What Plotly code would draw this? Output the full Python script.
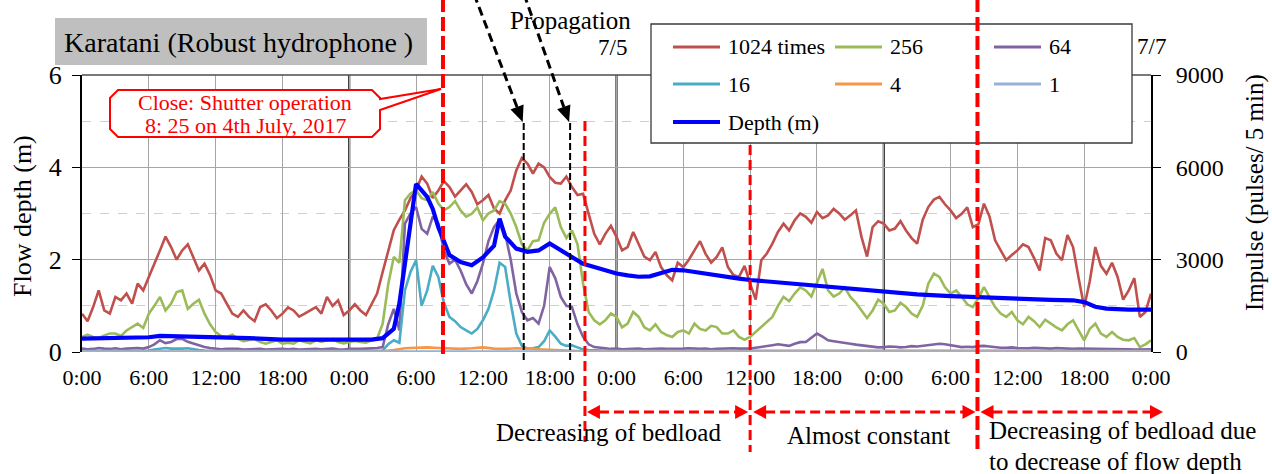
import math
from datetime import datetime, timedelta
import plotly.graph_objects as go

# ---------------- data ----------------
start = datetime(2017, 7, 3)
hours = list(range(97))                  # on-the-hour readings
half_hours = [h + 0.5 for h in range(96)]  # readings at half past

# impulse counts (pulses / 5 min) for each amplification level
imp_1024_hour = [1245, 1460, 1350, 1790, 1900, 2220, 2440, 3300, 3410, 3300,
                 3090, 2870, 2000, 1570, 1140, 1140, 1460, 1350, 1245, 1350,
                 1245, 1460, 1790, 1680, 1350, 1350, 1570, 2600, 3960, 4600,
                 5250, 5470, 5250, 5360, 5250, 5200, 4930, 4660, 4930, 5900,
                 6120, 6120, 5690, 5470, 5360, 5140, 3840, 3840, 3740, 3410,
                 3520, 2980, 2760, 2330, 2760, 3300, 3190, 3090, 2760, 2440,
                 2220, 2980, 3520, 4170, 4280, 4390, 4550, 4440, 4500, 4440,
                 3740, 4060, 4170, 4010, 3950, 3520, 4710, 5040, 4600, 4490,
                 4060, 4820, 3630, 2980, 3300, 3410, 2650, 3630, 2980, 3410,
                 1460, 3410, 2540, 2440, 2000, 1140, 1900]
imp_1024_half = [1000, 2000, 1250, 1680, 1570, 2000, 2900, 3750, 3000, 3500,
                 2650, 2500, 1900, 1250, 1350, 1000, 1550, 1100, 1450, 1150,
                 1350, 1250, 1500, 1200, 1550, 1200, 1900, 3300, 4300, 5000,
                 5700, 5000, 5550, 5050, 5450, 4800, 5100, 4500, 5250, 6300,
                 5800, 6000, 5500, 5700, 5100, 4500, 3500, 4100, 3300, 3900,
                 3100, 3250, 2500, 2900, 3000, 3600, 2900, 3400, 2500, 2800,
                 1700, 3200, 3900, 3950, 4500, 4200, 4350, 4650, 4300, 4600,
                 3100, 4250, 3950, 4250, 3700, 4300, 4950, 4800, 4350, 4700,
                 4150, 4400, 3300, 3150, 3500, 3050, 3700, 3200, 3800, 2400,
                 2300, 2800, 2900, 1700, 2400, 1300]

imp_256_hour = [490, 490, 540, 600, 700, 920, 1245, 1790, 1570, 2000,
                1570, 1245, 650, 490, 430, 380, 325, 325, 270, 270,
                325, 380, 380, 325, 325, 325, 380, 920, 3090, 4930,
                5250, 4930, 4820, 4710, 4600, 4490, 4280, 4600, 4820, 4060,
                3300, 3630, 4490, 4060, 3950, 2220, 1030, 1030, 1140, 920,
                1140, 700, 650, 490, 700, 920, 700, 810, 600, 490,
                490, 810, 1140, 1790, 1900, 2000, 2220, 2000, 1900, 1790,
                1350, 1350, 1570, 1350, 1460, 1140, 2220, 2440, 1900, 1790,
                1460, 2110, 1460, 1140, 1030, 1140, 810, 920, 700, 1030,
                380, 920, 490, 490, 380, 160, 380]
imp_256_half = [560, 450, 600, 520, 800, 780, 1500, 1350, 1950, 1400,
                1700, 900, 520, 560, 350, 420, 270, 380, 300, 380,
                280, 330, 420, 280, 360, 300, 430, 2200, 2900, 5150,
                5000, 5200, 4600, 4900, 4400, 4700, 4500, 4900, 4500, 3500,
                3600, 4200, 4700, 3700, 3500, 1300, 900, 1250, 800, 1300,
                800, 900, 550, 650, 600, 750, 850, 600, 700, 400,
                650, 1000, 1500, 1650, 2100, 1800, 2700, 1800, 2100, 1600,
                1100, 1700, 1300, 1600, 1250, 1500, 2550, 2100, 2000, 1550,
                1750, 1800, 1250, 1300, 900, 1000, 1050, 800, 900, 700,
                750, 600, 650, 400, 450, 250]

imp_64_hour = [110, 100, 110, 120, 110, 130, 160, 380, 325, 430,
               270, 160, 110, 100, 100, 90, 100, 90, 100, 100,
               90, 100, 100, 90, 100, 100, 110, 160, 1400, 4170,
               4710, 3840, 4170, 2870, 2650, 1900, 2870, 4060, 3840, 1900,
               1030, 920, 2760, 1790, 1460, 490, 160, 120, 110, 100,
               110, 100, 110, 100, 110, 100, 110, 100, 100, 110,
               110, 160, 220, 220, 270, 325, 600, 380, 330, 270,
               220, 160, 160, 170, 160, 180, 220, 270, 220, 160,
               160, 200, 150, 140, 130, 120, 130, 110, 120, 100,
               110, 100, 110, 100, 90, 80, 90]
imp_64_half = [90, 130, 100, 90, 130, 110, 250, 290, 420, 330,
               200, 130, 90, 110, 80, 110, 80, 110, 90, 80,
               110, 90, 110, 80, 90, 110, 130, 900, 700, 4500,
               4000, 4400, 3300, 3000, 2200, 2300, 3600, 4300, 3000, 1300,
               1100, 1500, 2400, 1500, 900, 250, 130, 100, 90, 120,
               90, 110, 100, 90, 120, 100, 90, 110, 120, 100,
               140, 180, 250, 200, 320, 450, 500, 350, 300, 240,
               190, 150, 180, 150, 190, 200, 260, 250, 180, 170,
               190, 180, 140, 150, 120, 140, 110, 130, 100, 110,
               100, 110, 90, 100, 80, 80]

imp_16_hour = [30, 30, 30, 30, 30, 40, 50, 110, 110, 110,
               80, 50, 50, 40, 40, 40, 40, 40, 40, 40,
               40, 40, 40, 40, 40, 40, 40, 50, 380, 2000,
               2980, 2000, 2440, 1140, 810, 600, 1030, 2000, 2760, 600,
               110, 160, 700, 270, 220, 80, 50, 50, 40, 40,
               40, 40, 40, 40, 40, 40, 40, 40, 40, 40,
               40, 40, 40, 40, 50, 50, 60, 50, 50, 40,
               40, 40, 40, 40, 40, 40, 40, 40, 40, 40,
               40, 40, 40, 40, 40, 40, 40, 40, 40, 40,
               40, 40, 40, 40, 40, 40, 40]
imp_16_half = [30, 30, 30, 30, 30, 40, 80, 130, 100, 120,
               60, 40, 40, 40, 40, 40, 40, 40, 40, 40,
               40, 40, 40, 40, 40, 40, 40, 250, 300, 2600,
               1500, 2800, 1600, 1000, 700, 750, 1400, 2900, 1600, 200,
               120, 350, 500, 200, 150, 60, 40, 40, 40, 40,
               40, 40, 40, 40, 40, 40, 40, 40, 40, 40,
               40, 40, 40, 50, 50, 60, 50, 50, 40, 40,
               40, 40, 40, 40, 40, 40, 40, 40, 40, 40,
               40, 40, 40, 40, 40, 40, 40, 40, 40, 40,
               40, 40, 40, 40, 40, 40]

imp_4_hour = [10, 10, 10, 10, 10, 10, 10, 10, 10, 10,
              10, 10, 10, 10, 10, 10, 10, 10, 10, 10,
              10, 10, 10, 10, 10, 10, 10, 20, 60, 120,
              140, 150, 130, 110, 100, 120, 150, 110, 100, 120,
              100, 80, 60, 40, 30, 20, 20, 20, 20, 20,
              20, 20, 20, 20, 20, 20, 20, 20, 20, 20,
              20, 20, 20, 20, 20, 20, 20, 20, 20, 20,
              20, 20, 20, 20, 20, 20, 20, 20, 20, 20,
              20, 20, 20, 20, 20, 20, 20, 20, 20, 20,
              20, 20, 20, 20, 20, 20, 20]
imp_1_hour = [15, 15, 15, 15, 15, 15, 15, 20, 20, 20,
              15, 15, 15, 15, 15, 15, 15, 15, 15, 15,
              15, 15, 15, 15, 15, 15, 15, 15, 20, 25,
              25, 25, 25, 25, 20, 20, 25, 25, 25, 20,
              20, 20, 20, 20, 20, 15, 15, 15, 15, 15,
              15, 15, 15, 15, 15, 15, 15, 15, 15, 15,
              15, 15, 15, 15, 15, 15, 15, 15, 15, 15,
              15, 15, 15, 15, 15, 15, 15, 15, 15, 15,
              15, 15, 15, 15, 15, 15, 15, 15, 15, 15,
              15, 15, 15, 15, 15, 15, 15]

# flow depth (m)
depth_hours = [0, 3, 6, 7, 9, 12, 15, 18, 21, 24, 26, 27, 27.5, 28, 28.5, 29,
               29.5, 30, 30.5, 31, 31.5, 32, 33, 34, 35, 36, 37, 37.5, 38, 39,
               40, 41, 42, 43, 44, 45, 46, 47, 48, 49, 50, 51, 52, 53, 54, 55,
               56, 57, 58, 59, 60, 62, 64, 66, 68, 70, 72, 75, 78, 81, 84, 87,
               89, 90, 91, 92, 94, 96]
depth_m = [0.29, 0.30, 0.32, 0.35, 0.34, 0.32, 0.30, 0.27, 0.27, 0.27, 0.27,
           0.30, 0.40, 0.50, 1.05, 1.95, 2.85, 3.64, 3.50, 3.36, 3.10, 2.70,
           2.10, 1.95, 1.88, 2.05, 2.30, 2.89, 2.50, 2.24, 2.17, 2.20, 2.35,
           2.20, 2.06, 1.91, 1.84, 1.77, 1.70, 1.66, 1.63, 1.64, 1.70, 1.78,
           1.77, 1.73, 1.70, 1.66, 1.62, 1.59, 1.56, 1.52, 1.48, 1.44, 1.39,
           1.35, 1.30, 1.25, 1.21, 1.18, 1.14, 1.13, 1.12, 1.08, 0.98, 0.94,
           0.92, 0.92]


def merged(on_hour, half_past):
    """Put the on-the-hour and half-past readings back in time order."""
    t, v = [], []
    for i, h in enumerate(hours):
        t.append(h)
        v.append(on_hour[i])
        if half_past is not None and i < len(half_hours):
            t.append(half_hours[i])
            v.append(half_past[i])
    return t, v


series = [
    ("1024 times", imp_1024_hour, imp_1024_half, "#C0504D"),
    ("256", imp_256_hour, imp_256_half, "#9BBB59"),
    ("64", imp_64_hour, imp_64_half, "#8064A2"),
    ("16", imp_16_hour, imp_16_half, "#4BACC6"),
    ("4", imp_4_hour, None, "#F79646"),
    ("1", imp_1_hour, None, "#95B3D7"),
]
depth_name, depth_color = "Depth (m)", "#0000FF"

# event times (hours from 3 July 0:00)
t_close = 24 + 8 + 25 / 60        # 8:25, 4 July
t_front1 = 24 + 15 + 40 / 60      # propagation front 1
t_front2 = 24 + 19 + 50 / 60      # propagation front 2
t_dec = 24 + 21 + 10 / 60         # start of decreasing bedload
t_const = 48 + 12                 # start of almost constant phase
t_drop = 72 + 8 + 25 / 60         # start of decrease due to flow depth

# ---------------- geometry helpers ----------------
W, H = 1272, 474
L, R, T, B = 82, 1151, 75, 352
PW, PH = R - L, B - T
FONT = "Liberation Serif, Times New Roman, serif"


def fx(x):
    return (x - L) / PW


def fy(y):
    return (B - y) / PH


def hpx(h):
    return L + h * PW / 96


def when(h):
    return start + timedelta(hours=h)


shapes = []
annots = []


def seg(x0, y0, x1, y1, color, width, dash="solid", layer="above"):
    shapes.append(dict(type="line", xref="paper", yref="paper",
                       x0=fx(x0), y0=fy(y0), x1=fx(x1), y1=fy(y1),
                       line=dict(color=color, width=width, dash=dash), layer=layer))


def poly(points, fill, line_color=None, width=0, layer="above"):
    d = "M " + " L ".join(f"{fx(x):.5f},{fy(y):.5f}" for x, y in points) + " Z"
    shapes.append(dict(type="path", xref="paper", yref="paper", path=d,
                       fillcolor=fill, layer=layer,
                       line=dict(color=line_color or fill, width=width)))


def arrow_head(tip, frm, length, half, color):
    dx, dy = tip[0] - frm[0], tip[1] - frm[1]
    n = math.hypot(dx, dy)
    ux, uy = dx / n, dy / n
    bx, by = tip[0] - ux * length, tip[1] - uy * length
    poly([tip, (bx - uy * half, by + ux * half), (bx + uy * half, by - ux * half)], color)
    return bx, by


def text(x, y, s, size, color="black", xanchor="center", angle=0, bg=None):
    annots.append(dict(x=fx(x), y=fy(y), xref="paper", yref="paper", text=s,
                       showarrow=False, xanchor=xanchor, yanchor="middle",
                       textangle=angle, bgcolor=bg,
                       font=dict(family=FONT, size=size, color=color)))


# ---------------- traces ----------------
fig = go.Figure()
for name, on_hour, half_past, col in series:
    t, v = merged(on_hour, half_past)
    fig.add_trace(go.Scatter(x=[when(h) for h in t], y=v, name=name, mode="lines",
                             line=dict(color=col, width=2.6), yaxis="y",
                             showlegend=False))
fig.add_trace(go.Scatter(x=[when(h) for h in depth_hours], y=depth_m,
                         name=depth_name, mode="lines",
                         line=dict(color=depth_color, width=4.2), yaxis="y2",
                         showlegend=False))

# ---------------- frame decorations ----------------
# day boundaries
seg(hpx(24), T, hpx(24), B, "black", 2, layer="below")
seg(hpx(48), T, hpx(48), B, "black", 2, layer="below")
seg(hpx(72), T, hpx(72), B, "black", 2, layer="below")
seg(L, T, R, T, "#4d4d4d", 1.6)

# title box
shapes.append(dict(type="rect", xref="paper", yref="paper",
                   x0=fx(55), x1=fx(427), y0=fy(18), y1=fy(65),
                   fillcolor="#BFBFBF", line=dict(width=0), layer="above"))
text(62, 42, "Karatani (Robust hydrophone )", 28, xanchor="left")

# legend box
shapes.append(dict(type="rect", xref="paper", yref="paper",
                   x0=fx(651), x1=fx(1132), y0=fy(24), y1=fy(143),
                   fillcolor="white", line=dict(color="#3a3a3a", width=1.3),
                   layer="above"))
legend_items = [(n, c, 2.8) for n, _, _, c in series] + [(depth_name, depth_color, 4.2)]
cols = [673, 835, 994]
rows = [47, 84, 122]
for i, (n, c, w) in enumerate(legend_items):
    x0 = cols[i % 3]
    y0 = rows[i // 3]
    seg(x0, y0, x0 + 47, y0, c, w)
    text(x0 + 53, y0, n, 22, xanchor="left")

# event lines
seg(hpx(t_close), -2, hpx(t_close), 358, "#FF0000", 4, dash="14px,5px")
seg(hpx(t_dec), 121, hpx(t_dec), 442, "#FF0000", 3, dash="10px,5px")
seg(hpx(t_const), 145, hpx(t_const), 452, "#FF0000", 3, dash="10px,5px")
seg(hpx(t_drop), -2, hpx(t_drop), 452, "#FF0000", 4, dash="14px,5px")
seg(hpx(t_front1), 123, hpx(t_front1), 360, "black", 2, dash="7px,3px")
seg(hpx(t_front2), 123, hpx(t_front2), 360, "black", 2, dash="7px,3px")

# propagation arrows
for top, tip in [((474, -6), (hpx(t_front1) - 1, 122)),
                 ((524, -6), (hpx(t_front2) - 1, 122))]:
    bx, by = arrow_head(tip, top, 16, 7, "black")
    seg(top[0], top[1], bx, by, "black", 3, dash="9px,5px")
text(570, 20, "Propagation", 25)
text(612, 48, "7/5", 23)
text(1151, 47, "7/7", 23)

# phase arrows
ya = 412
for xa, xb in [(hpx(t_dec) + 2, hpx(t_const) - 2),
               (hpx(t_const) + 3, hpx(t_drop) - 2),
               (hpx(t_drop) + 3, 1163)]:
    arrow_head((xa, ya), (xb, ya), 13, 7, "#FF0000")
    arrow_head((xb, ya), (xa, ya), 13, 7, "#FF0000")
    seg(xa + 12, ya, xb - 12, ya, "#FF0000", 3, dash="10px,5px")
text(608, 432, "Decreasing of bedload", 25)
text(868, 435, "Almost constant", 25)
text(987, 430, "Decreasing of bedload due", 25, xanchor="left")
text(987, 461, "to decrease of flow depth", 25, xanchor="left")

# callout for shutter operation
bx0, bx1, by0, by1, r = 110, 380, 90, 137, 8
tipx = hpx(t_close) - 2
callout = [(bx0 + r, by0), (bx1 - r, by0), (bx1, by0 + r), (bx1, by0 + r + 1),
           (tipx, 89), (bx1, by0 + r + 12), (bx1, by1 - r), (bx1 - r, by1),
           (bx0 + r, by1), (bx0, by1 - r), (bx0, by0 + r)]
poly(callout, "white", "#FF0000", 2)
text(245, 102, "Close: Shutter operation", 22, color="#FF0000")
text(245, 125, "8: 25 on 4th July, 2017", 22, color="#FF0000")

# axis titles
text(22, 216, "Flow depth (m)", 26, angle=-90)
text(1255, 193, "Impulse (pulses/ 5 min)", 25, angle=-90)

# ---------------- layout ----------------
fig.update_layout(
    width=W, height=H,
    margin=dict(l=L, r=W - R, t=T, b=H - B, pad=0),
    paper_bgcolor="white", plot_bgcolor="white",
    font=dict(family=FONT, color="black"),
    showlegend=False,
    xaxis=dict(type="date", range=[when(0), when(96)],
               tick0=when(0), dtick=6 * 3600 * 1000, tickformat="%-H:%M",
               showgrid=True, gridcolor="#A6A6A6", gridwidth=1.2,
               showline=False, zeroline=False, ticks="",
               ticklabelstandoff=10,
               tickfont=dict(family=FONT, size=22, color="black")),
    yaxis=dict(range=[0, 9000], tick0=0, dtick=3000, side="right",
               showline=True, linecolor="black", linewidth=2,
               ticks="outside", ticklen=8, tickwidth=1.3, tickcolor="black",
               ticklabelstandoff=10,
               showgrid=True, gridcolor="#A6A6A6", gridwidth=1.2,
               zeroline=False,
               minor=dict(dtick=1500, tick0=0, showgrid=True, griddash="dash",
                          gridcolor="#CFCFCF", gridwidth=1),
               tickfont=dict(family=FONT, size=24, color="black")),
    yaxis2=dict(range=[0, 6], tick0=0, dtick=2, overlaying="y", side="left",
                showgrid=False, zeroline=False,
                showline=True, linecolor="black", linewidth=2,
                ticks="outside", ticklen=8, tickwidth=1.3, tickcolor="black",
                ticklabelstandoff=5,
                tickfont=dict(family=FONT, size=26, color="black")),
    shapes=shapes,
    annotations=annots,
)

fig.write_html("out.html")
